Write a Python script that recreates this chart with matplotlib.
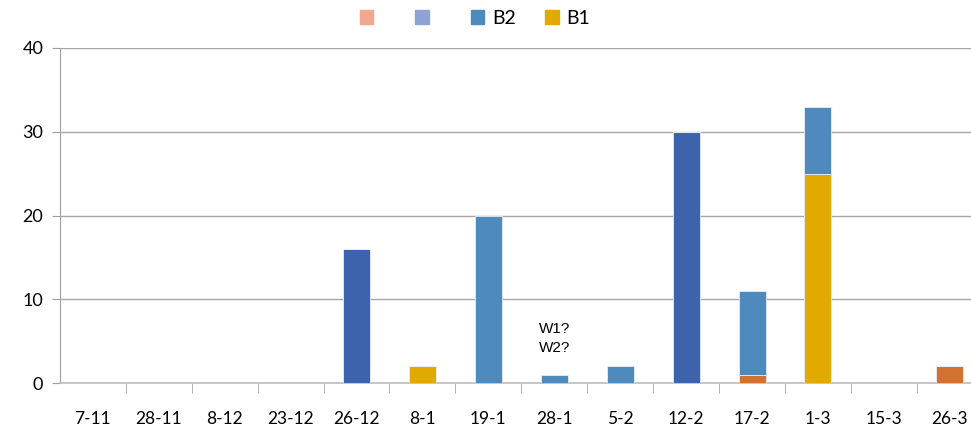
import numpy as np
import matplotlib
matplotlib.use('Agg')
import matplotlib.pyplot as plt
from matplotlib.patches import Patch

cats = ['7-11', '28-11', '8-12', '23-12', '26-12', '8-1', '19-1', '28-1',
        '5-2', '12-2', '17-2', '1-3', '15-3', '26-3']
w1 = [0, 0, 0, 0, 0, 0, 0, 0, 0, 0, 1, 0, 0, 2]
w2 = [0, 0, 0, 0, 16, 0, 0, 0, 0, 30, 0, 0, 0, 0]
b1 = [0, 0, 0, 0, 0, 2, 0, 0, 0, 0, 0, 25, 0, 0]
b2 = [0, 0, 0, 0, 0, 0, 20, 1, 2, 0, 10, 8, 0, 0]

plt.rcParams['font.family'] = ['Lato', 'DejaVu Sans']

fig = plt.figure(figsize=(9.71, 4.33), dpi=100)
ax = fig.add_axes([59.8 / 971, 50 / 433, 923 / 971, 335 / 433])

x = np.arange(len(cats))
w = 0.41
bottom = np.zeros(len(cats))
for vals, col in [(w1, '#D4712E'), (w2, '#3D63AC'), (b1, '#E2AA00'), (b2, '#4F8ABE')]:
    ax.bar(x, vals, w, bottom=bottom, color=col, edgecolor='#e8eef6', linewidth=0.6, zorder=3)
    bottom += np.array(vals)

ax.set_xlim(-0.5, len(cats) - 0.5)
ax.set_ylim(0, 40)
ax.set_yticks([0, 10, 20, 30, 40])
ax.grid(axis='y', color='#a6a6a6', linewidth=1, zorder=0)
for s in ['top', 'right']:
    ax.spines[s].set_visible(False)
ax.spines['left'].set_color('#a0a0a0')
ax.spines['bottom'].set_color('#bcbcbc')
ax.spines['bottom'].set_linewidth(1.2)

ax.set_xticks(x)
ax.set_xticklabels(cats, fontsize=12.5)
ax.tick_params(axis='x', length=0, pad=20)
ax.set_xticks(np.arange(0.5, len(cats) - 0.5), minor=True)
ax.tick_params(axis='x', which='minor', length=7, color='#a6a6a6', direction='out')
ax.tick_params(axis='y', labelsize=13, length=6, color='#a0a0a0', pad=6)

ax.text(7, 5.3, 'W1?\nW2?', ha='center', va='center', fontsize=11,
        family=['Liberation Sans'], linespacing=1.45)

handles = [Patch(color='#F2A88E', label=' '), Patch(color='#8FA2D4', label=' '),
           Patch(color='#4F8ABE', label='B2'), Patch(color='#E2AA00', label='B1')]
fig.legend(handles=handles, loc='center', bbox_to_anchor=(475 / 971, 1 - 18 / 433),
           ncol=4, frameon=False, fontsize=14, handlelength=0.7, handleheight=0.7,
           handletextpad=0.4, columnspacing=1.5)

fig.savefig('out.png', dpi=100)
